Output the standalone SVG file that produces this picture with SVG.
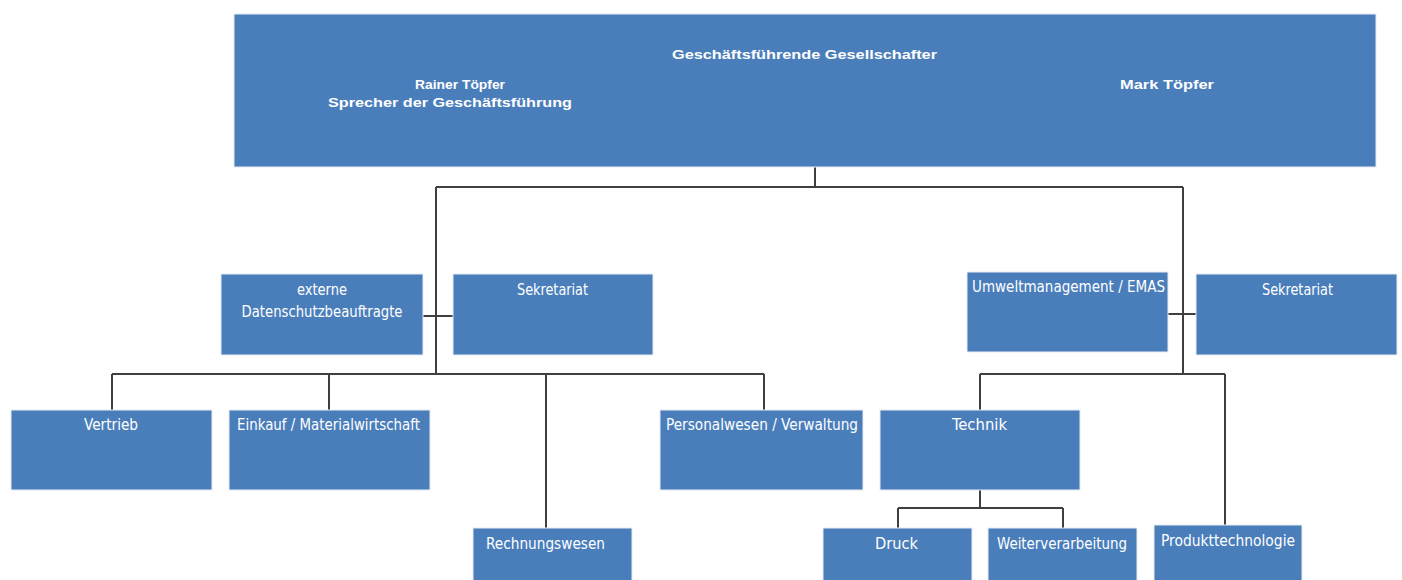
<svg xmlns="http://www.w3.org/2000/svg" width="1402" height="580" viewBox="0 0 1402 580">
<style>
.box{fill:#4a7ebb;stroke:#e6ecf4;stroke-width:1}
.t{fill:#ffffff;font-family:"Liberation Sans Narrow","DejaVu Sans Condensed","Liberation Sans",sans-serif;font-stretch:condensed;font-size:15px;text-anchor:middle}
.h{fill:#ffffff;font-family:"Liberation Sans","DejaVu Sans",sans-serif;font-size:13px;font-weight:bold;text-anchor:middle}
.c{fill:none;stroke:#3f3f3f;stroke-width:2}
</style>
<rect width="1402" height="580" fill="#ffffff"/>
<g id="connectors">
<path class="c" d="M815 167V187M436 187H1183M436 187V374M1183 187V374"/>
<path class="c" d="M423 316H453M1168 314H1196"/>
<path class="c" d="M112 374H764M112 374V410M329 374V410M546 374V528M764 374V410"/>
<path class="c" d="M980 374H1225M980 374V410M1225 374V526"/>
<path class="c" d="M980 490V508M898 508H1063M898 508V528M1063 508V528"/>
</g>
<g id="gf">
<rect class="box" x="234" y="14" width="1142" height="153"/>
<text class="h" x="804.5" y="59" textLength="265" lengthAdjust="spacingAndGlyphs">Geschäftsführende Gesellschafter</text>
<text class="h" x="460" y="89" textLength="90" lengthAdjust="spacingAndGlyphs">Rainer Töpfer</text>
<text class="h" x="450" y="107" textLength="244" lengthAdjust="spacingAndGlyphs">Sprecher der Geschäftsführung</text>
<text class="h" x="1167" y="89" textLength="94" lengthAdjust="spacingAndGlyphs">Mark Töpfer</text>
</g>
<g id="datenschutz">
<rect class="box" x="221" y="274" width="202" height="81"/>
<text class="t" x="322" y="295" textLength="50" lengthAdjust="spacingAndGlyphs">externe</text>
<text class="t" x="322" y="317" textLength="161" lengthAdjust="spacingAndGlyphs">Datenschutzbeauftragte</text>
</g>
<g id="sekretariat1">
<rect class="box" x="453" y="274" width="200" height="81"/>
<text class="t" x="552.5" y="295" textLength="71" lengthAdjust="spacingAndGlyphs">Sekretariat</text>
</g>
<g id="umwelt">
<rect class="box" x="967" y="272" width="201" height="80"/>
<text class="t" x="1068.5" y="292" textLength="193" lengthAdjust="spacingAndGlyphs">Umweltmanagement / EMAS</text>
</g>
<g id="sekretariat2">
<rect class="box" x="1196" y="274" width="201" height="81"/>
<text class="t" x="1297.5" y="295" textLength="71" lengthAdjust="spacingAndGlyphs">Sekretariat</text>
</g>
<g id="vertrieb">
<rect class="box" x="11" y="410" width="201" height="80"/>
<text class="t" x="111" y="430" textLength="54" lengthAdjust="spacingAndGlyphs">Vertrieb</text>
</g>
<g id="einkauf">
<rect class="box" x="229" y="410" width="201" height="80"/>
<text class="t" x="328.5" y="430" textLength="183" lengthAdjust="spacingAndGlyphs">Einkauf / Materialwirtschaft</text>
</g>
<g id="personal">
<rect class="box" x="660" y="410" width="203" height="80"/>
<text class="t" x="762" y="430" textLength="192" lengthAdjust="spacingAndGlyphs">Personalwesen / Verwaltung</text>
</g>
<g id="technik">
<rect class="box" x="880" y="410" width="200" height="80"/>
<text class="t" x="979.5" y="430" textLength="55" lengthAdjust="spacingAndGlyphs">Technik</text>
</g>
<g id="rechnungswesen">
<rect class="box" x="473" y="528" width="159" height="60"/>
<text class="t" x="545.5" y="549" textLength="119" lengthAdjust="spacingAndGlyphs">Rechnungswesen</text>
</g>
<g id="druck">
<rect class="box" x="823" y="528" width="149" height="60"/>
<text class="t" x="896.5" y="549" textLength="43" lengthAdjust="spacingAndGlyphs">Druck</text>
</g>
<g id="weiterverarbeitung">
<rect class="box" x="988" y="528" width="149" height="60"/>
<text class="t" x="1062" y="549" textLength="130" lengthAdjust="spacingAndGlyphs">Weiterverarbeitung</text>
</g>
<g id="produkttechnologie">
<rect class="box" x="1154" y="525" width="148" height="63"/>
<text class="t" x="1228" y="546" textLength="134" lengthAdjust="spacingAndGlyphs">Produkttechnologie</text>
</g>
</svg>
